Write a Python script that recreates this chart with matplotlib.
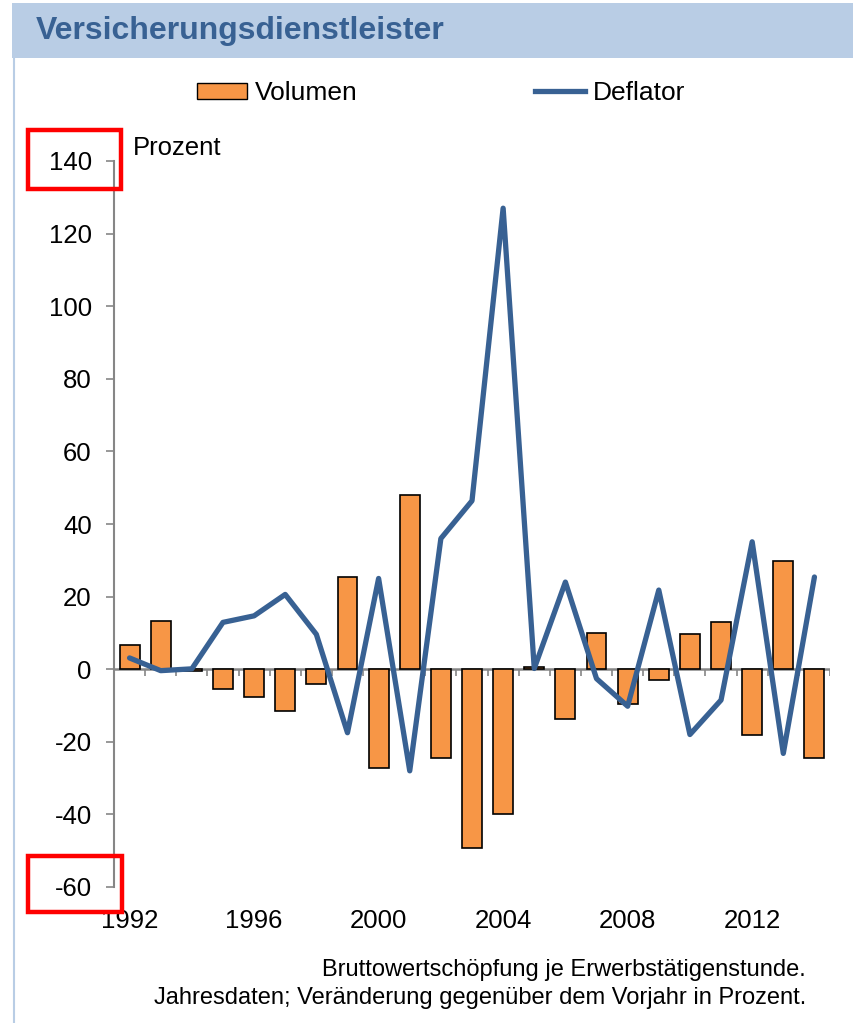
import matplotlib
matplotlib.use("Agg")
import matplotlib.pyplot as plt
import matplotlib.patches as mpatches
from matplotlib.lines import Line2D
import numpy as np

plt.rcParams['font.family'] = ['Liberation Sans', 'DejaVu Sans']

years = list(range(1992, 2015))
volumen = [6.8, 13.4, -0.5, -5.4, -7.6, -11.4, -4.2, 25.4, -27.3, 48.0, -24.4, -49.3,
           -40.0, 0.5, -13.6, 10.1, -9.7, -3.1, 9.6, 12.9, -18.0, 29.9, -24.4]
deflator = [3.1, -0.4, 0.1, 12.9, 14.7, 20.6, 9.6, -17.5, 25.0, -28.0, 36.0, 46.4,
            127.0, 0.2, 24.0, -2.6, -10.2, 21.8, -18.0, -8.5, 35.1, -23.2, 25.4]
ytick_vals = [-60, -40, -20, 0, 20, 40, 60, 80, 100, 120, 140]
xtick_years = [1992, 1996, 2000, 2004, 2008, 2012]

title = "Versicherungsdienstleister"
unit_label = "Prozent"
footnote = ["Bruttowertschöpfung je Erwerbstätigenstunde.",
            "Jahresdaten; Veränderung gegenüber dem Vorjahr in Prozent."]

W, H = 854, 1023
fig = plt.figure(figsize=(W / 100, H / 100), dpi=100)

def fx(px):
    return px / W

def fy(py):
    return 1 - py / H

ORANGE = "#F79646"
BLUE = "#386193"
BAND = "#B9CDE5"
GRAY = "#868686"

# Title band
fig.patches.append(mpatches.Rectangle((fx(12), fy(58)), fx(854) - fx(12), fy(3) - fy(58),
                                      transform=fig.transFigure, facecolor=BAND, edgecolor='none', zorder=0))
fig.text(fx(36), fy(31), title, fontsize=23, fontweight='bold', color=BLUE, va='center', ha='left')
fig.lines.append(Line2D([fx(14), fx(14)], [fy(58), 0], transform=fig.transFigure, color=BAND, lw=1.5))

# Axes
ax_left, ax_right, ax_top, ax_bottom = 114, 830, 161, 887
ax = fig.add_axes([fx(ax_left), fy(ax_bottom), fx(ax_right) - fx(ax_left), fy(ax_top) - fy(ax_bottom)])

x = np.arange(len(years))
ax.bar(x, volumen, width=0.64, color=ORANGE, edgecolor='black', linewidth=1.2, zorder=2, label="Volumen")
ax.plot(x, deflator, color=BLUE, lw=3.8, zorder=3, solid_joinstyle='round', solid_capstyle='round',
        label="Deflator")

ax.set_xlim(-0.5, len(years) - 0.5)
ax.set_ylim(-60, 140)
ax.axhline(0, color=GRAY, lw=1.8, zorder=1)

# category tick marks on the zero line
bounds = np.arange(len(years) + 1) - 0.5
ax.vlines(bounds, -1.8, 0, color=GRAY, lw=1.2, zorder=1)

for s in ['top', 'right', 'bottom']:
    ax.spines[s].set_visible(False)
ax.spines['left'].set_color(GRAY)
ax.spines['left'].set_linewidth(1.5)

ax.set_yticks(ytick_vals)
ax.set_yticklabels([str(v) for v in ytick_vals])
ax.tick_params(axis='y', direction='out', length=6, width=1.2, color=GRAY, labelsize=18.5, pad=10)

ax.set_xticks([years.index(yv) for yv in xtick_years])
ax.set_xticklabels([str(yv) for yv in xtick_years])
ax.tick_params(axis='x', length=0, labelsize=18.5, pad=16)

fig.text(fx(133), fy(148), unit_label, fontsize=18.5, ha='left', va='center')

# Legend
handles = [mpatches.Patch(facecolor=ORANGE, edgecolor='black', linewidth=1.0),
           Line2D([0], [0], color=BLUE, lw=3.8)]
fig.legend(handles, ["Volumen", "Deflator"], loc='center', bbox_to_anchor=(fx(441), fy(93)),
           ncol=2, frameon=False, fontsize=19, handlelength=1.9, handletextpad=0.3,
           columnspacing=6.7, borderpad=0, handleheight=0.55)

# Footnote
fig.text(fx(806), fy(970), footnote[0], fontsize=17, ha='right', va='center')
fig.text(fx(806), fy(998), footnote[1], fontsize=17, ha='right', va='center')

# Red highlight boxes
for (x0, y0, x1, y1) in [(28, 130, 121, 189), (28, 856, 122, 912)]:
    fig.patches.append(mpatches.Rectangle((fx(x0), fy(y1)), fx(x1) - fx(x0), fy(y0) - fy(y1),
                                          transform=fig.transFigure, facecolor='none',
                                          edgecolor='#FF0000', lw=3.2, zorder=10))

fig.savefig("out.png", dpi=100)
